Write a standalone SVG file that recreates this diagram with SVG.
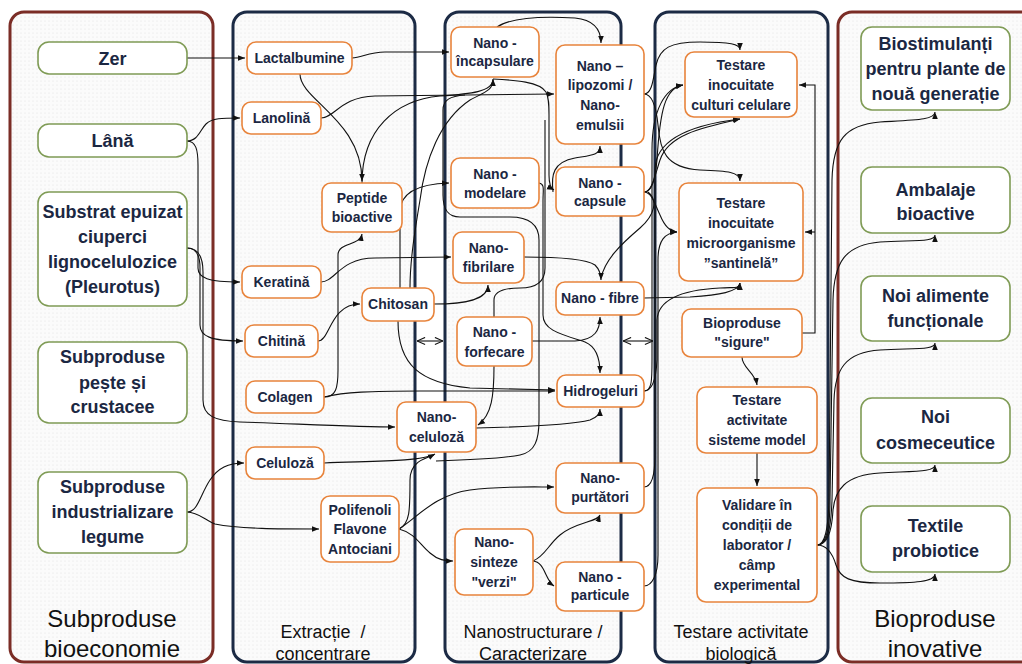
<svg xmlns="http://www.w3.org/2000/svg" width="1022" height="664" viewBox="0 0 1022 664">
<defs>
<pattern id="dots" width="4" height="4" patternUnits="userSpaceOnUse"><rect width="4" height="4" fill="#fbfbfb"/><circle cx="1" cy="1" r="0.6" fill="#e4e4e4"/></pattern>
<marker id="ah" viewBox="0 0 10 10" refX="10" refY="5" markerWidth="7" markerHeight="7" markerUnits="userSpaceOnUse" orient="auto"><path d="M0,1 L10,5 L0,9 z" fill="#111"/></marker>
<marker id="oa" viewBox="0 0 10 10" refX="10" refY="5" markerWidth="9" markerHeight="9" markerUnits="userSpaceOnUse" orient="auto-start-reverse"><path d="M1,1 L10,5 L1,9" fill="none" stroke="#111" stroke-width="1.2"/></marker>
<style>
.fr{fill:url(#dots);stroke:#7B2D26;stroke-width:3}
.fb{fill:url(#dots);stroke:#1C2B45;stroke-width:3}
.ng{fill:#fff;stroke:#7F9B55;stroke-width:1.6}
.no{fill:#fff;stroke:#E8843C;stroke-width:1.6}
.t18{font-family:"Liberation Sans",Arial,sans-serif;font-weight:bold;font-size:18px;fill:#1B2742;text-anchor:middle}
.t14{font-family:"Liberation Sans",Arial,sans-serif;font-weight:bold;font-size:14px;fill:#1B2742;text-anchor:middle}
.ti{font-family:"Liberation Sans",Arial,sans-serif;font-size:24px;fill:#111;text-anchor:middle}
.ts{font-family:"Liberation Sans",Arial,sans-serif;font-size:18px;fill:#111;text-anchor:middle}
.c{fill:none;stroke:#111;stroke-width:1.1;marker-end:url(#ah)}
.cn{fill:none;stroke:#111;stroke-width:1.1}
.dbl{fill:none;stroke:#111;stroke-width:1.1;marker-start:url(#oa);marker-end:url(#oa)}
</style>
</defs>
<rect width="1022" height="664" fill="#fff"/>
<g id="frames">
<rect class="fr" x="10" y="12" width="203" height="650" rx="14"/>
<rect class="fb" x="233" y="12" width="182" height="650" rx="14"/>
<rect class="fb" x="445" y="12" width="176" height="650" rx="14"/>
<rect class="fb" x="655" y="12" width="173" height="650" rx="14"/>
<rect class="fr" x="838" y="12" width="200" height="650" rx="14"/>
<text class="ti" x="112" y="627">Subproduse</text>
<text class="ti" x="112" y="657">bioeconomie</text>
<text class="ts" x="323" y="638" xml:space="preserve">Extracție  /</text>
<text class="ts" x="323" y="660">concentrare</text>
<text class="ts" x="533" y="638">Nanostructurare /</text>
<text class="ts" x="533" y="660">Caracterizare</text>
<text class="ts" x="741" y="638">Testare activitate</text>
<text class="ts" x="741" y="660">biologică</text>
<text class="ti" x="935" y="627">Bioproduse</text>
<text class="ti" x="935" y="657">inovative</text>
</g>
<g id="connectors">
<path class="c" d="M187,58 L245,58"/>
<path class="c" d="M187,141 C198,141 200,130 206,124 C212,118 222,118 240,118"/>
<path class="c" d="M187,141 C196,141 198,150 198,165 L198,268 C198,278 208,282 240,282"/>
<path class="c" d="M187,248 C197,248 200,256 200,268 L200,325 C200,336 210,341 243,341"/>
<path class="c" d="M187,248 C199,248 203,258 203,272 L203,400 C203,416 215,421 240,422 C300,424 360,427 395,427"/>
<path class="c" d="M187,512 C198,512 200,495 210,480 C218,468 228,463 244,463"/>
<path class="c" d="M187,512 C198,512 205,520 215,524 C240,529 280,529 319,529"/>
<path class="c" d="M352,58 C362,58 368,52 385,52 L449,52"/>
<path class="c" d="M300,74 C300,100 362,120 362,181"/>
<path class="c" d="M321,118 C335,118 340,97 375,96 L554,94"/>
<path class="c" d="M362,183 C362,130 395,100 440,96 C470,94 493,92 493,79"/>
<path class="c" d="M321,282 C335,282 340,258 375,258 L451,257"/>
<path class="c" d="M318,341 C330,341 330,304 360,304"/>
<path class="c" d="M324,397 C336,397 338,388 338,370 L338,255 C338,242 360,246 362,234"/>
<path class="c" d="M324,397 C345,392 370,391 420,391 L555,391"/>
<path class="c" d="M400,288 L400,212 C400,194 415,184 449,183"/>
<path class="cn" d="M410,288 C410,260 415,230 420,200 C425,160 440,120 470,100 C485,92 493,90 493,80"/>
<path class="c" d="M434,304 C465,304 488,300 488,285"/>
<path class="c" d="M398,321 C398,365 420,383 470,388 L555,390"/>
<path class="c" d="M324,463 C370,461 420,462 435,454"/>
<path class="cn" d="M399,529 C410,524 410,510 410,480 C410,462 425,458 434,455"/>
<path class="cn" d="M436,461 C470,460 500,459 520,455 C535,452 539,440 539,420 L539,240 C539,225 530,217 510,217 L460,217 C448,217 443,210 443,195 L443,110 C443,100 450,96 465,95"/>
<path class="c" d="M399,529 C420,515 435,495 470,490 C500,486 530,487 554,487"/>
<path class="c" d="M399,529 C415,533 420,545 430,553 C438,560 445,561 453,561"/>
<path class="c" d="M476,428 C520,427 570,425 590,420 C598,417 600,413 600,409"/>
<path class="c" d="M494,366 C494,395 492,415 478,425"/>
<path class="c" d="M532,341 L575,341 C595,340 600,330 600,317"/>
<path class="c" d="M493,79 C515,80 540,82 546,92 C549,98 549,105 549,115 L549,175 C549,185 552,189 554,190"/>
<path class="cn" d="M494,317 L494,300 C494,292 503,288 520,288 C535,288 545,282 545,268 L545,120"/>
<path class="c" d="M539,183 C545,184 543,190 543,200 L543,315 C543,330 560,334 585,342 C597,347 600,360 600,373"/>
<path class="c" d="M553,192 C551,175 553,162 575,158 C592,155 600,155 600,146"/>
<path class="c" d="M497,27 C510,18 540,16 575,18 C595,20 601,30 601,43"/>
<path class="c" d="M524,257 C555,257 585,258 595,265 C600,270 601,275 601,280"/>
<path class="cn" d="M648,192 C658,200 655,215 640,228 C620,245 605,260 601,278"/>
<path class="c" d="M533,561 C545,556 548,545 560,535 C575,522 598,522 600,515"/>
<path class="c" d="M533,561 C545,562 545,580 554,586"/>
<path class="c" d="M644,94 C652,94 653,80 656,65 C660,48 670,42 700,42 C730,42 740,44 740,50"/>
<path class="c" d="M644,94 C652,94 656,105 658,125 C660,150 665,168 700,170 C728,171 740,172 740,181"/>
<path class="c" d="M644,192 C652,192 655,180 657,160 C660,110 665,88 683,85"/>
<path class="c" d="M644,192 C652,192 655,175 660,160 C668,135 700,128 740,119"/>
<path class="c" d="M644,192 C652,192 655,205 660,215 C665,227 670,231 677,232"/>
<path class="c" d="M644,298 L690,297 C720,295 738,292 740,283"/>
<path class="c" d="M644,391 C652,391 652,380 652,360 L652,150 C652,110 665,88 683,85"/>
<path class="c" d="M644,487 C652,487 655,475 655,455 L655,170 C655,140 690,125 740,119"/>
<path class="c" d="M644,586 C652,586 658,575 658,555 L658,260 C658,240 665,233 677,232"/>
<path class="c" d="M644,391 C652,391 656,380 657,360 L657,320 C658,300 680,290 720,288 C735,287 740,289 740,283"/>
<path class="c" d="M802,333 L815,333 L815,85 L799,85"/>
<path class="c" d="M815,232 L805,232"/>
<path class="c" d="M742,357 C742,368 755,372 757,385"/>
<path class="c" d="M757,453 L757,486"/>
<path class="c" d="M817,545 C825,545 828,530 829,500 L832,180 C833,140 845,125 880,122 C915,120 935,120 935,112"/>
<path class="c" d="M817,545 C826,545 830,530 830,500 L833,300 C834,262 845,245 880,242 C915,240 935,242 935,235"/>
<path class="c" d="M817,545 C827,545 831,530 832,500 L834,400 C835,370 845,352 880,350 C915,348 935,350 935,343"/>
<path class="c" d="M817,545 C828,545 832,530 833,510 C835,490 845,475 880,473 C915,471 935,472 935,465"/>
<path class="c" d="M817,545 C828,545 833,555 836,565 C840,578 850,583 880,583 C915,583 935,582 935,574"/>
<path class="dbl" d="M417,341 L443,341"/>
<path class="dbl" d="M623,341 L653,341"/>
</g>
<g id="n-zer"><rect class="ng" x="38" y="42" width="149" height="32" rx="11"/><text class="t18" x="112.5" y="64.5">Zer</text></g>
<g id="n-lana"><rect class="ng" x="38" y="124" width="149" height="33" rx="11"/><text class="t18" x="112.5" y="147">Lână</text></g>
<g id="n-substrat"><rect class="ng" x="38" y="192" width="149" height="114" rx="11"/><text class="t18" x="112.5" y="218">Substrat epuizat</text><text class="t18" x="112.5" y="243">ciuperci</text><text class="t18" x="112.5" y="268">lignocelulozice</text><text class="t18" x="112.5" y="293">(Pleurotus)</text></g>
<g id="n-peste"><rect class="ng" x="38" y="342" width="149" height="81" rx="11"/><text class="t18" x="112.5" y="363">Subproduse</text><text class="t18" x="112.5" y="389">pește și</text><text class="t18" x="112.5" y="413">crustacee</text></g>
<g id="n-legume"><rect class="ng" x="38" y="472" width="149" height="81" rx="11"/><text class="t18" x="112.5" y="493">Subproduse</text><text class="t18" x="112.5" y="518">industrializare</text><text class="t18" x="112.5" y="543">legume</text></g>
<g id="n-lactalbumine"><rect class="no" x="247" y="42" width="105" height="32" rx="9"/><text class="t14" x="299.5" y="63">Lactalbumine</text></g>
<g id="n-lanolina"><rect class="no" x="242" y="102" width="79" height="32" rx="9"/><text class="t14" x="281.5" y="123">Lanolină</text></g>
<g id="n-peptide"><rect class="no" x="322" y="183" width="80" height="49" rx="9"/><text class="t14" x="362" y="203">Peptide</text><text class="t14" x="362" y="222">bioactive</text></g>
<g id="n-keratina"><rect class="no" x="242" y="266" width="79" height="32" rx="9"/><text class="t14" x="281.5" y="287">Keratină</text></g>
<g id="n-chitosan"><rect class="no" x="362" y="288" width="72" height="33" rx="9"/><text class="t14" x="398" y="309">Chitosan</text></g>
<g id="n-chitina"><rect class="no" x="245" y="325" width="73" height="32" rx="9"/><text class="t14" x="281.5" y="346">Chitină</text></g>
<g id="n-colagen"><rect class="no" x="246" y="381" width="78" height="32" rx="9"/><text class="t14" x="285" y="402">Colagen</text></g>
<g id="n-nanoceluloza"><rect class="no" x="397" y="402" width="79" height="50" rx="9"/><text class="t14" x="436.5" y="422">Nano-</text><text class="t14" x="436.5" y="442">celuloză</text></g>
<g id="n-celuloza"><rect class="no" x="246" y="447" width="78" height="32" rx="9"/><text class="t14" x="285" y="468">Celuloză</text></g>
<g id="n-polifenoli"><rect class="no" x="321" y="496" width="78" height="66" rx="9"/><text class="t14" x="360" y="515">Polifenoli</text><text class="t14" x="360" y="534">Flavone</text><text class="t14" x="360" y="554">Antociani</text></g>
<g id="n-incapsulare"><rect class="no" x="451" y="27" width="88" height="50" rx="9"/><text class="t14" x="495" y="48">Nano -</text><text class="t14" x="495" y="66">încapsulare</text></g>
<g id="n-lipozomi"><rect class="no" x="556" y="45" width="88" height="99" rx="9"/><text class="t14" x="600" y="71">Nano –</text><text class="t14" x="600" y="90">lipozomi /</text><text class="t14" x="600" y="110">Nano-</text><text class="t14" x="600" y="130">emulsii</text></g>
<g id="n-modelare"><rect class="no" x="451" y="158" width="88" height="50" rx="9"/><text class="t14" x="495" y="179">Nano -</text><text class="t14" x="495" y="198">modelare</text></g>
<g id="n-capsule"><rect class="no" x="556" y="167" width="88" height="49" rx="9"/><text class="t14" x="600" y="188">Nano -</text><text class="t14" x="600" y="206">capsule</text></g>
<g id="n-fibrilare"><rect class="no" x="453" y="232" width="71" height="51" rx="9"/><text class="t14" x="488.5" y="253">Nano-</text><text class="t14" x="488.5" y="272">fibrilare</text></g>
<g id="n-fibre"><rect class="no" x="556" y="282" width="88" height="33" rx="9"/><text class="t14" x="600" y="303">Nano - fibre</text></g>
<g id="n-forfecare"><rect class="no" x="457" y="317" width="75" height="49" rx="9"/><text class="t14" x="494.5" y="337">Nano -</text><text class="t14" x="494.5" y="357">forfecare</text></g>
<g id="n-hidrogeluri"><rect class="no" x="557" y="375" width="87" height="32" rx="9"/><text class="t14" x="600.5" y="396">Hidrogeluri</text></g>
<g id="n-purtatori"><rect class="no" x="556" y="463" width="88" height="50" rx="9"/><text class="t14" x="600" y="483">Nano-</text><text class="t14" x="600" y="502">purtători</text></g>
<g id="n-sinteze"><rect class="no" x="455" y="529" width="78" height="66" rx="9"/><text class="t14" x="494" y="547">Nano-</text><text class="t14" x="494" y="567">sinteze</text><text class="t14" x="494" y="587">"verzi"</text></g>
<g id="n-particule"><rect class="no" x="556" y="562" width="88" height="49" rx="9"/><text class="t14" x="600" y="582">Nano -</text><text class="t14" x="600" y="600">particule</text></g>
<g id="n-culturi"><rect class="no" x="685" y="52" width="112" height="65" rx="9"/><text class="t14" x="741" y="70">Testare</text><text class="t14" x="741" y="90">inocuitate</text><text class="t14" x="741" y="110">culturi celulare</text></g>
<g id="n-santinela"><rect class="no" x="679" y="183" width="124" height="98" rx="9"/><text class="t14" x="741" y="208">Testare</text><text class="t14" x="741" y="228">inocuitate</text><text class="t14" x="741" y="248">microorganisme</text><text class="t14" x="741" y="268">”santinelă”</text></g>
<g id="n-bioproduse"><rect class="no" x="682" y="309" width="120" height="48" rx="9"/><text class="t14" x="742" y="328">Bioproduse</text><text class="t14" x="742" y="347">"sigure"</text></g>
<g id="n-activitate"><rect class="no" x="697" y="387" width="120" height="66" rx="9"/><text class="t14" x="757" y="405">Testare</text><text class="t14" x="757" y="425">activitate</text><text class="t14" x="757" y="445">sisteme model</text></g>
<g id="n-validare"><rect class="no" x="697" y="488" width="120" height="114" rx="9"/><text class="t14" x="757" y="510">Validare în</text><text class="t14" x="757" y="530">condiții de</text><text class="t14" x="757" y="550">laborator /</text><text class="t14" x="757" y="570">câmp</text><text class="t14" x="757" y="590">experimental</text></g>
<g id="n-biostimulanti"><rect class="ng" x="861" y="27" width="149" height="83" rx="11"/><text class="t18" x="935.5" y="50">Biostimulanți</text><text class="t18" x="935.5" y="75">pentru plante de</text><text class="t18" x="935.5" y="100">nouă generație</text></g>
<g id="n-ambalaje"><rect class="ng" x="861" y="167" width="149" height="66" rx="11"/><text class="t18" x="935.5" y="196">Ambalaje</text><text class="t18" x="935.5" y="220">bioactive</text></g>
<g id="n-alimente"><rect class="ng" x="861" y="276" width="149" height="65" rx="11"/><text class="t18" x="935.5" y="302">Noi alimente</text><text class="t18" x="935.5" y="327">funcționale</text></g>
<g id="n-cosmeceutice"><rect class="ng" x="861" y="398" width="149" height="65" rx="11"/><text class="t18" x="935.5" y="423">Noi</text><text class="t18" x="935.5" y="449">cosmeceutice</text></g>
<g id="n-textile"><rect class="ng" x="861" y="506" width="149" height="66" rx="11"/><text class="t18" x="935.5" y="532">Textile</text><text class="t18" x="935.5" y="557">probiotice</text></g>
</svg>
